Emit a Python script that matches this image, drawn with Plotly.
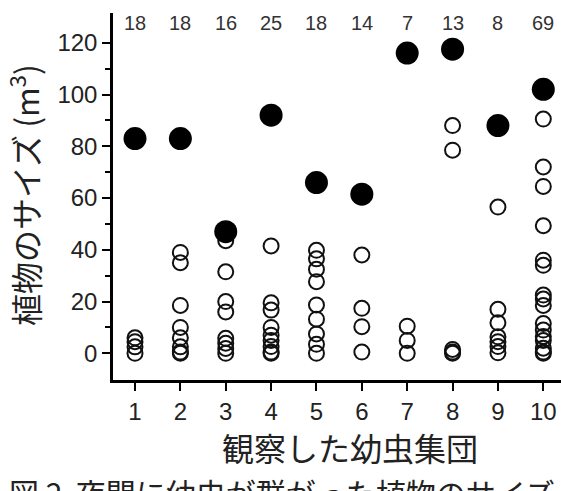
import plotly.graph_objects as go

groups = [1, 2, 3, 4, 5, 6, 7, 8, 9, 10]
counts = ["18", "18", "16", "25", "18", "14", "7", "13", "8", "69"]
filled_sizes = [83, 83, 47, 92, 66, 61.5, 116, 117.5, 88, 102]
open_sizes = {
    1: [6, 4.5, 2.5, 0],
    2: [39, 35, 18.5, 10, 6, 2.5, 0, 0.5],
    3: [43.5, 31.5, 20, 16, 5.8, 3.9, 1.9, 0],
    4: [41.5, 19.5, 16.7, 10, 7, 5, 2.6, 0, 0.5],
    5: [39.8, 36.5, 32.5, 27.7, 18.7, 13.2, 7.5, 3.5, 0],
    6: [38, 17.4, 10.3, 0.5],
    7: [10.5, 5, 0],
    8: [88, 78.5, 1.5, 0.5, 0],
    9: [56.5, 17, 11.8, 6.4, 4.5, 2.6, 0.2],
    10: [90.5, 72, 64.5, 49.3, 36, 34, 22.5, 21, 18.5, 11.5, 9, 6.5, 5, 2, 0.5, 0],
}
y_ticks = [0, 20, 40, 60, 80, 100, 120]

ox, oy = [], []
for g in groups:
    for v in open_sizes[g]:
        ox.append(g)
        oy.append(v)

fig = go.Figure()
fig.add_trace(go.Scatter(
    x=ox, y=oy, mode="markers",
    marker=dict(symbol="circle-open", size=15, color="#111111",
                line=dict(width=2, color="#111111")),
    showlegend=False, cliponaxis=False))
fig.add_trace(go.Scatter(
    x=groups, y=filled_sizes, mode="markers",
    marker=dict(symbol="circle", size=23, color="#000000"),
    showlegend=False, cliponaxis=False))

for g, c in zip(groups, counts):
    fig.add_annotation(x=g, y=127.6, text=c, showarrow=False,
                       font=dict(family="Liberation Sans, Arial", size=20, color="#333333"),
                       xanchor="center", yanchor="middle")

fig.add_annotation(xref="paper", yref="paper", x=-0.2, y=0.505,
                   text="植物のサイズ (m<sup>3</sup>)", textangle=-90, showarrow=False,
                   font=dict(family="Noto Sans CJK JP", size=32, color="#222222"),
                   xanchor="center", yanchor="middle")
fig.add_annotation(xref="paper", yref="paper", x=0.529, y=-0.183,
                   text="観察した幼虫集団", showarrow=False,
                   font=dict(family="Noto Sans CJK JP", size=32, color="#222222"),
                   xanchor="center", yanchor="middle")
fig.add_annotation(xref="paper", yref="paper", x=-0.237, y=-0.305,
                   text="図 2  夜間に幼虫が群がった植物のサイズ", showarrow=False,
                   font=dict(family="Noto Sans CJK JP", size=30, color="#222222"),
                   xanchor="left", yanchor="middle")

fig.update_xaxes(range=[0.515, 10.39], tickvals=groups, ticktext=[str(g) for g in groups],
                 showline=True, linecolor="black", linewidth=2.5, mirror=False,
                 ticks="outside", ticklen=8, tickwidth=2, tickcolor="black",
                 showgrid=False, zeroline=False,
                 tickfont=dict(family="Liberation Sans, Arial", size=24, color="#222222"))
fig.update_yaxes(range=[-10.3, 131.5], tickvals=y_ticks,
                 showline=True, linecolor="black", linewidth=2.5,
                 ticks="outside", ticklen=8, tickwidth=2, tickcolor="black",
                 minor=dict(tickvals=[10, 30, 50, 70, 90, 110], ticks="outside",
                            ticklen=5, tickwidth=2, tickcolor="black"),
                 showgrid=False, zeroline=False,
                 tickfont=dict(family="Liberation Sans, Arial", size=24, color="#222222"))

fig.update_layout(width=561, height=491, margin=dict(l=113, r=0, t=13, b=111),
                  plot_bgcolor="white", paper_bgcolor="white")
fig.write_html("out.html")
